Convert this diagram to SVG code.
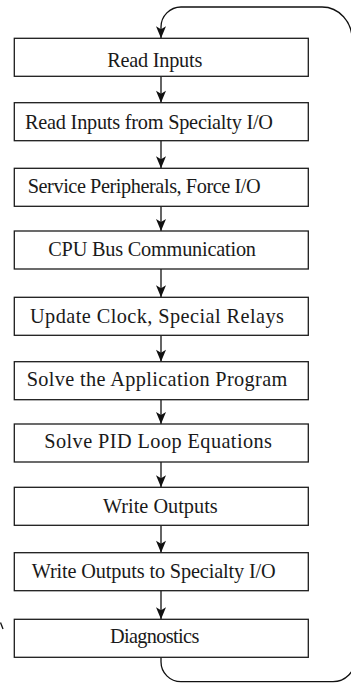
<svg xmlns="http://www.w3.org/2000/svg" width="351" height="683" viewBox="0 0 351 683">
  <style>
    .box rect { fill: #ffffff; stroke: #1c1c1c; stroke-width: 1.3; }
    .box text { font-family: "Liberation Serif", "Times New Roman", serif; font-size: 20.3px; fill: #1a1a1a; }
    .wire { fill: none; stroke: #111111; stroke-width: 1.3; }
  </style>
  <defs>
    <marker id="head" viewBox="0 0 12 10" refX="12" refY="5" markerWidth="13" markerHeight="10" markerUnits="userSpaceOnUse" orient="auto">
      <path d="M0,0 L12,5 L0,10 L3,5 Z" fill="#111111"/>
    </marker>
  </defs>
  <rect width="351" height="683" fill="#ffffff"/>

  <!-- connectors -->
  <g id="connectors">
    <!-- return loop over the top into the first step -->
    <path class="wire" d="M352,40 A30,32 0 0 0 322,7 H181 A20,20 0 0 0 161,27 V38.3" marker-end="url(#head)"/>
    <!-- step-to-step arrows -->
    <path class="wire" d="M161,76.3 V102.7" marker-end="url(#head)"/>
    <path class="wire" d="M161,140.7 V168.3" marker-end="url(#head)"/>
    <path class="wire" d="M161,206.3 V231" marker-end="url(#head)"/>
    <path class="wire" d="M161,269 V297.3" marker-end="url(#head)"/>
    <path class="wire" d="M161,335.3 V361.7" marker-end="url(#head)"/>
    <path class="wire" d="M161,399.7 V424" marker-end="url(#head)"/>
    <path class="wire" d="M161,462 V487.3" marker-end="url(#head)"/>
    <path class="wire" d="M161,525.3 V552.7" marker-end="url(#head)"/>
    <path class="wire" d="M161,590.7 V619.3" marker-end="url(#head)"/>
    <!-- return loop leaving the last step -->
    <path class="wire" d="M161,657.3 V661.7 A20,20 0 0 0 181,681.7 H333 A22,22 0 0 0 355,659.7"/>
    <path class="wire" d="M0.5,622.5 L3,629"/>
  </g>

  <g id="read-inputs" class="box">
    <rect x="14.3" y="38.3" width="294" height="38"/>
    <text x="107.3" y="66.5" textLength="95">Read Inputs</text>
  </g>
  <g id="read-specialty-io" class="box">
    <rect x="14.3" y="102.7" width="294" height="38"/>
    <text x="25" y="129.3" textLength="248">Read Inputs from Specialty I/O</text>
  </g>
  <g id="service-peripherals" class="box">
    <rect x="14.3" y="168.3" width="294" height="38"/>
    <text x="27.7" y="193.3" textLength="233">Service Peripherals, Force I/O</text>
  </g>
  <g id="cpu-bus" class="box">
    <rect x="14.3" y="231" width="294" height="38"/>
    <text x="48.3" y="256" textLength="207.7">CPU Bus Communication</text>
  </g>
  <g id="update-clock" class="box">
    <rect x="14.3" y="297.3" width="294" height="38"/>
    <text x="30" y="323.3" textLength="254">Update Clock, Special Relays</text>
  </g>
  <g id="solve-program" class="box">
    <rect x="14.3" y="361.7" width="294" height="38"/>
    <text x="26.7" y="386" textLength="260.6">Solve the Application Program</text>
  </g>
  <g id="solve-pid" class="box">
    <rect x="14.3" y="424" width="294" height="38"/>
    <text x="44.3" y="448.3" textLength="227.7">Solve PID Loop Equations</text>
  </g>
  <g id="write-outputs" class="box">
    <rect x="14.3" y="487.3" width="294" height="38"/>
    <text x="103" y="513.3">Write Outputs</text>
  </g>
  <g id="write-specialty-io" class="box">
    <rect x="14.3" y="552.7" width="294" height="38"/>
    <text x="31.7" y="578.3" textLength="244">Write Outputs to Specialty I/O</text>
  </g>
  <g id="diagnostics" class="box">
    <rect x="14.3" y="619.3" width="294" height="38"/>
    <text x="110" y="642.7" textLength="89.3">Diagnostics</text>
  </g>
</svg>
